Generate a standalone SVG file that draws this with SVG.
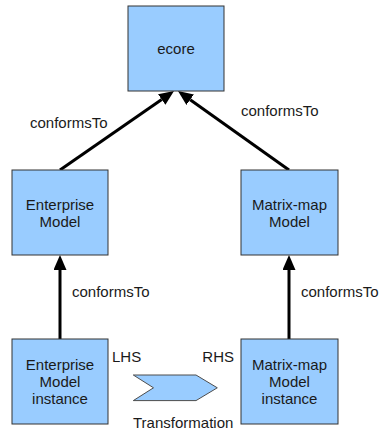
<svg xmlns="http://www.w3.org/2000/svg" width="383" height="430" viewBox="0 0 383 430">
<style>
.box{fill:#99ccff;stroke:#333333;stroke-width:1}
.t{font-family:"Liberation Sans",Arial,sans-serif;font-size:15px;fill:#1a1a1a}
.c{text-anchor:middle}
.edge{stroke:#000;stroke-width:3;fill:none}
</style>
<defs>
<marker id="ah" markerUnits="userSpaceOnUse" markerWidth="16" markerHeight="14" refX="0" refY="6.5" orient="auto" viewBox="0 0 16 14">
<path d="M0,0 L15,6.5 L0,13 z" fill="#000"/>
</marker>
</defs>
<rect width="383" height="430" fill="#ffffff"/>
<g id="connectors">
<line class="edge" x1="60" y1="170" x2="161.7" y2="99.5" marker-end="url(#ah)"/>
<line class="edge" x1="289" y1="170" x2="190.2" y2="99.7" marker-end="url(#ah)"/>
<line class="edge" x1="60" y1="339" x2="60" y2="270" marker-end="url(#ah)"/>
<line class="edge" x1="289" y1="339" x2="289" y2="270" marker-end="url(#ah)"/>
<text class="t" x="30" y="128">conformsTo</text>
<text class="t" x="241" y="116">conformsTo</text>
<text class="t" x="72" y="297">conformsTo</text>
<text class="t" x="301" y="297">conformsTo</text>
</g>
<g id="ecore">
<rect class="box" x="128" y="6" width="96" height="85"/>
<text class="t c" x="176" y="54">ecore</text>
</g>
<g id="enterprise-model">
<rect class="box" x="12" y="170" width="96" height="85"/>
<text class="t c" x="60" y="210">Enterprise</text>
<text class="t c" x="60" y="227">Model</text>
</g>
<g id="matrixmap-model">
<rect class="box" x="241" y="170" width="97" height="85"/>
<text class="t c" x="289.5" y="210">Matrix-map</text>
<text class="t c" x="289.5" y="227">Model</text>
</g>
<g id="enterprise-instance">
<rect class="box" x="12" y="339" width="96" height="85"/>
<text class="t c" x="60" y="370">Enterprise</text>
<text class="t c" x="60" y="387">Model</text>
<text class="t c" x="60" y="404">instance</text>
</g>
<g id="matrixmap-instance">
<rect class="box" x="241" y="339" width="97" height="85"/>
<text class="t c" x="289.5" y="370">Matrix-map</text>
<text class="t c" x="289.5" y="387">Model</text>
<text class="t c" x="289.5" y="404">instance</text>
</g>
<g id="transformation">
<polygon points="133.3,375 196,375 217.3,387.8 196,400.6 133.3,400.6 153.5,387.8" fill="#99ccff" stroke="#4d4d4d" stroke-width="1"/>
<text class="t" x="112" y="362">LHS</text>
<text class="t" x="234" y="362" text-anchor="end">RHS</text>
<text class="t" x="133" y="428">Transformation</text>
</g>
</svg>
